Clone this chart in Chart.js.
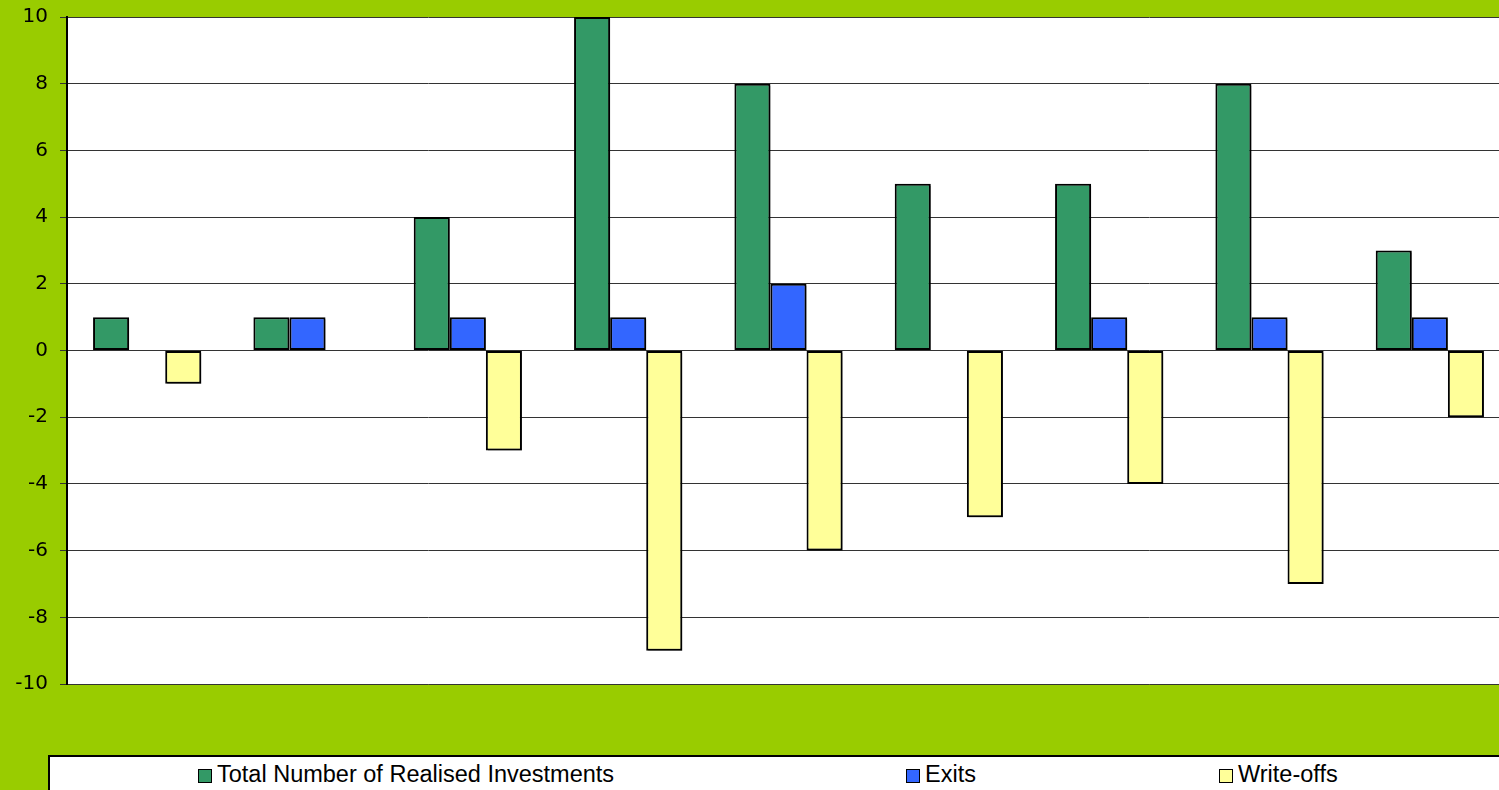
<!DOCTYPE html>
<html>

<head>
    <title>Realised Investments</title>
    <style>
        body {
            margin: 0;
            background: #99cc00;
            overflow: hidden;
            width: 1499px;
            height: 790px;
            position: relative;
        }

        .chart-box {
            position: absolute;
            left: 0;
            top: 0;
        }

        .legend-box {
            position: absolute;
            left: 48px;
            top: 755px;
            width: 1500px;
            height: 60px;
            background: #fff;
            border: 2px solid #000;
            box-sizing: border-box;
            font-family: "Liberation Sans", Arial, sans-serif;
            font-size: 23.5px;
            color: #000;
        }

        .legend-item {
            position: absolute;
            top: 4px;
            white-space: nowrap;
            line-height: 26px;
        }

        .legend-item span.swatch {
            display: inline-block;
            width: 12px;
            height: 12px;
            border: 1px solid #000;
            margin-right: 5px;
            vertical-align: -1px;
        }
    </style>
</head>

<body>
    <div class="chart-box">
        <canvas id="bar-chart" width="1510" height="700"></canvas>
    </div>
    <div class="legend-box" id="legend"></div>

    <script src="https://cdn.jsdelivr.net/npm/chart.js"></script>

    <script>
        // data
        const categories = ['1', '2', '3', '4', '5', '6', '7', '8', '9'];
        const seriesNames = ['Total Number of Realised Investments', 'Exits', 'Write-offs'];
        const realised = [1, 1, 4, 10, 8, 5, 5, 8, 3];
        const exits = [null, 1, 1, 1, 2, null, 1, 1, 1];
        const writeOffs = [-1, null, -3, -9, -6, -5, -4, -7, -2];
        const yTicks = [-10, -8, -6, -4, -2, 0, 2, 4, 6, 8, 10];

        const colors = ['#339966', '#3366ff', '#ffff99'];
        const legendX = [148, 856, 1169]; // left offsets inside legend box

        // white plot area + bar shadows
        const plotBg = {
            id: 'plotBg',
            beforeDraw(chart) {
                const { ctx, chartArea: a } = chart;
                ctx.save();
                ctx.fillStyle = '#fff';
                ctx.fillRect(a.left, a.top, a.right - a.left, a.bottom - a.top);
                ctx.restore();
            },
            beforeDatasetsDraw(chart) {
                const ctx = chart.ctx;
                ctx.save();
                ctx.shadowColor = 'rgba(0,0,0,0.35)';
                ctx.shadowOffsetX = 2;
                ctx.shadowOffsetY = 2;
                ctx.shadowBlur = 0;
            },
            afterDatasetsDraw(chart) {
                chart.ctx.restore();
            }
        };

        const ctx = document.getElementById('bar-chart').getContext('2d');
        const chart = new Chart(ctx, {
            type: 'bar',
            data: {
                labels: categories,
                datasets: [realised, exits, writeOffs].map((d, i) => ({
                    label: seriesNames[i],
                    data: d,
                    backgroundColor: colors[i],
                    borderColor: '#000',
                    borderWidth: 2,
                    borderSkipped: false,
                    categoryPercentage: 0.675,
                    barPercentage: 1,
                })),
            },
            options: {
                responsive: false,
                animation: false,
                layout: {
                    padding: { top: 17, bottom: 16, left: 0, right: 0 }
                },
                scales: {
                    x: {
                        display: false,
                    },
                    y: {
                        min: -10,
                        max: 10,
                        afterFit(scale) {
                            scale.width = 67;
                            scale.paddingTop = 0;
                            scale.paddingBottom = 0;
                        },
                        afterBuildTicks(scale) { scale.ticks = yTicks.map(v => ({ value: v })); },
                        border: { color: '#000', width: 2 },
                        grid: {
                            color: '#333',
                            lineWidth: 1,
                            tickLength: 7,
                        },
                        ticks: {
                            padding: 12,
                            color: '#000',
                            font: { family: 'DejaVu Sans', size: 20 },
                        },
                    },
                },
                plugins: {
                    legend: { display: false },
                    tooltip: { enabled: false },
                },
            },
            plugins: [plotBg],
        });

        // legend built from the series names
        const legend = document.getElementById('legend');
        seriesNames.forEach((name, i) => {
            const item = document.createElement('div');
            item.className = 'legend-item';
            item.style.left = legendX[i] + 'px';
            item.innerHTML = '<span class="swatch" style="background:' + colors[i] + '"></span>' + name;
            legend.appendChild(item);
        });
    </script>
</body>

</html>
